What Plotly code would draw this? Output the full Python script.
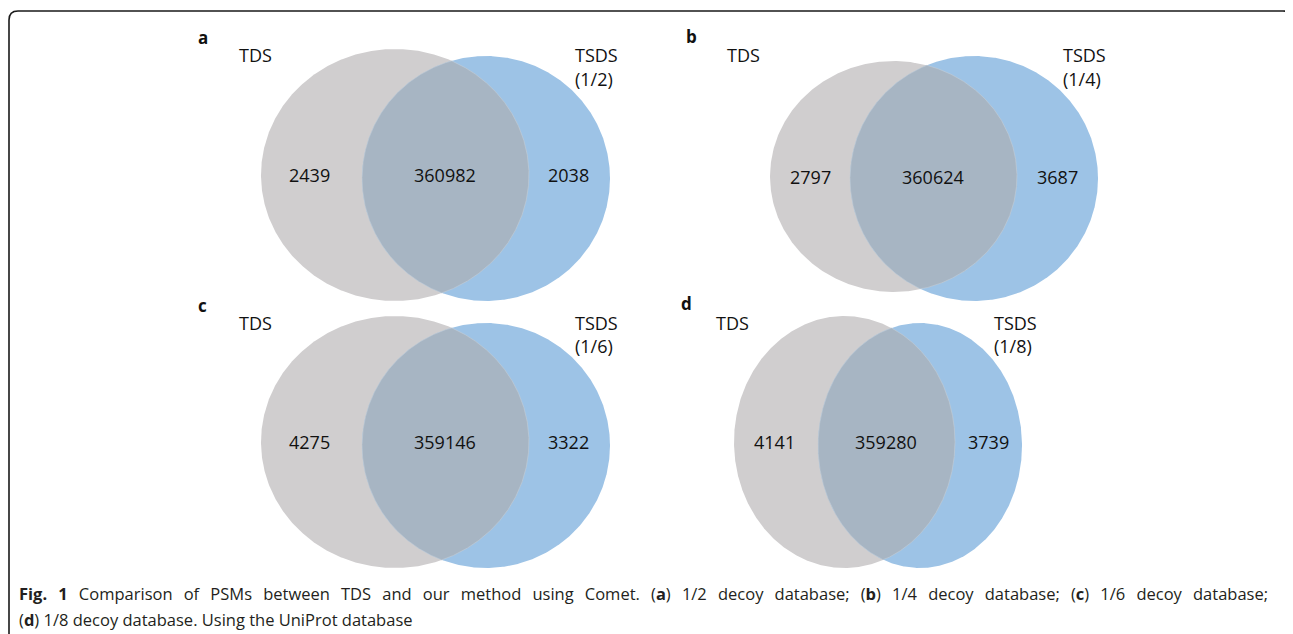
import numpy as np
import plotly.graph_objects as go

# ---- data ----
panel_letters = ["a", "b", "c", "d"]
set_left_names = ["TDS", "TDS", "TDS", "TDS"]
set_right_names = ["TSDS", "TSDS", "TSDS", "TSDS"]
decoy_ratios = ["(1/2)", "(1/4)", "(1/6)", "(1/8)"]
tds_only = [2439, 2797, 4275, 4141]
shared = [360982, 360624, 359146, 359280]
tsds_only = [2038, 3687, 3322, 3739]
caption_words1 = ["<b>Fig.</b>", "<b>1</b>", "Comparison", "of", "PSMs", "between", "TDS", "and", "our",
                  "method", "using", "Comet.", "(<b>a</b>)", "1/2", "decoy", "database;", "(<b>b</b>)",
                  "1/4", "decoy", "database;", "(<b>c</b>)", "1/6", "decoy", "database;"]
caption_line2 = "(<b>d</b>) 1/8 decoy database. Using the UniProt database"

# ---- layout geometry (pixels in the page) ----
W, H = 1293, 634
OFF = 8  # default body margin of the html page
geom = [
    dict(gray=(395, 175, 134, 126), blue=(486, 178.5, 124, 122.5), letter=(203, 37),
         tds=(237, 55), tsds=(573, 55, 79), nums=(309, 445, 568, 175)),
    dict(gray=(893.5, 176.5, 123.5, 115.5), blue=(974, 178.5, 124, 122.5), letter=(691, 36),
         tds=(725, 55), tsds=(1061, 55, 79), nums=(810, 933, 1057, 177)),
    dict(gray=(395, 442, 134, 126), blue=(486, 445.5, 124, 122.5), letter=(202, 305),
         tds=(237, 323), tsds=(573, 323, 346), nums=(309, 445, 568, 442)),
    dict(gray=(844.5, 442, 110.5, 126), blue=(920, 445.5, 102, 122.5), letter=(686, 303),
         tds=(714, 323), tsds=(992, 323, 346), nums=(774, 886, 988, 442)),
]
GRAY = "#D0CECF"
BLUE = "#9DC3E6"
OVER = "#A7B5C3"
FONT = "Open Sans"
TXT = "#111111"


def ellipse_pts(e, t):
    cx, cy, rx, ry = e
    return cx + rx * np.cos(t), cy + ry * np.sin(t)


def inside(e, x, y):
    cx, cy, rx, ry = e
    return ((x - cx) / rx) ** 2 + ((y - cy) / ry) ** 2 <= 1.0


fig = go.Figure()
ann = []
N = 720
for i, g in enumerate(geom):
    t = np.linspace(0, 2 * np.pi, N)
    for e, col in ((g["gray"], GRAY), (g["blue"], BLUE)):
        x, y = ellipse_pts(e, t)
        fig.add_trace(go.Scatter(x=x, y=y, mode="lines", fill="toself", fillcolor=col,
                                 line=dict(width=0, color=col), hoverinfo="skip", showlegend=False))
    # lens: right arc of gray inside blue, then left arc of blue inside gray
    tg = np.linspace(-np.pi, np.pi, 2000)
    gx, gy = ellipse_pts(g["gray"], tg)
    m = inside(g["blue"], gx, gy)
    tb = np.linspace(0, 2 * np.pi, 2000)
    bx, by = ellipse_pts(g["blue"], tb)
    mb = inside(g["gray"], bx, by)
    lx = np.concatenate([gx[m], bx[mb], gx[m][:1]])
    ly = np.concatenate([gy[m], by[mb], gy[m][:1]])
    fig.add_trace(go.Scatter(x=lx, y=ly, mode="lines", fill="toself", fillcolor=OVER,
                             line=dict(width=0.6, color="#C4CCD5"), hoverinfo="skip", showlegend=False))

    f18 = dict(family=FONT, size=18, color=TXT)
    ann.append(dict(x=g["letter"][0], y=g["letter"][1], text="<b>" + panel_letters[i] + "</b>",
                    xanchor="center", yanchor="middle", font=dict(family=FONT, size=17, color=TXT)))
    ann.append(dict(x=g["tds"][0], y=g["tds"][1], text=set_left_names[i], xanchor="left", yanchor="middle", font=f18))
    ann.append(dict(x=g["tsds"][0], y=g["tsds"][1], text=set_right_names[i], xanchor="left", yanchor="middle", font=f18))
    ann.append(dict(x=g["tsds"][0], y=g["tsds"][2], text=decoy_ratios[i], xanchor="left", yanchor="middle", font=f18))
    nx1, nx2, nx3, ny = g["nums"]
    for xx, val in ((nx1, tds_only[i]), (nx2, shared[i]), (nx3, tsds_only[i])):
        ann.append(dict(x=xx, y=ny, text=str(val), xanchor="center", yanchor="middle", font=f18))

cap_font = dict(family=FONT, size=16.5, color="#231F20")
caption_line1 = " \u2009\u2005".join(caption_words1)  # justified-looking word spacing
ann.append(dict(x=17, y=593, text=caption_line1, xanchor="left", yanchor="middle", font=cap_font))
ann.append(dict(x=17, y=619, text=caption_line2, xanchor="left", yanchor="middle", font=cap_font))
for a in ann:
    a.update(xref="x", yref="y", showarrow=False)

frame = "M 9,650 L 9,20 Q 9,11 18,11 L 1283,11 Q 1292,11 1292,20 L 1292,650"
fig.update_layout(
    width=W - OFF, height=H - OFF, margin=dict(l=0, r=0, t=0, b=0),
    paper_bgcolor="white", plot_bgcolor="white",
    xaxis=dict(range=[OFF, W], visible=False, fixedrange=True),
    yaxis=dict(range=[H, OFF], visible=False, fixedrange=True),
    annotations=ann,
    shapes=[dict(type="path", path=frame, xref="x", yref="y", line=dict(color="#1A1A1A", width=1.6))],
)
fig.write_html("out.html")
